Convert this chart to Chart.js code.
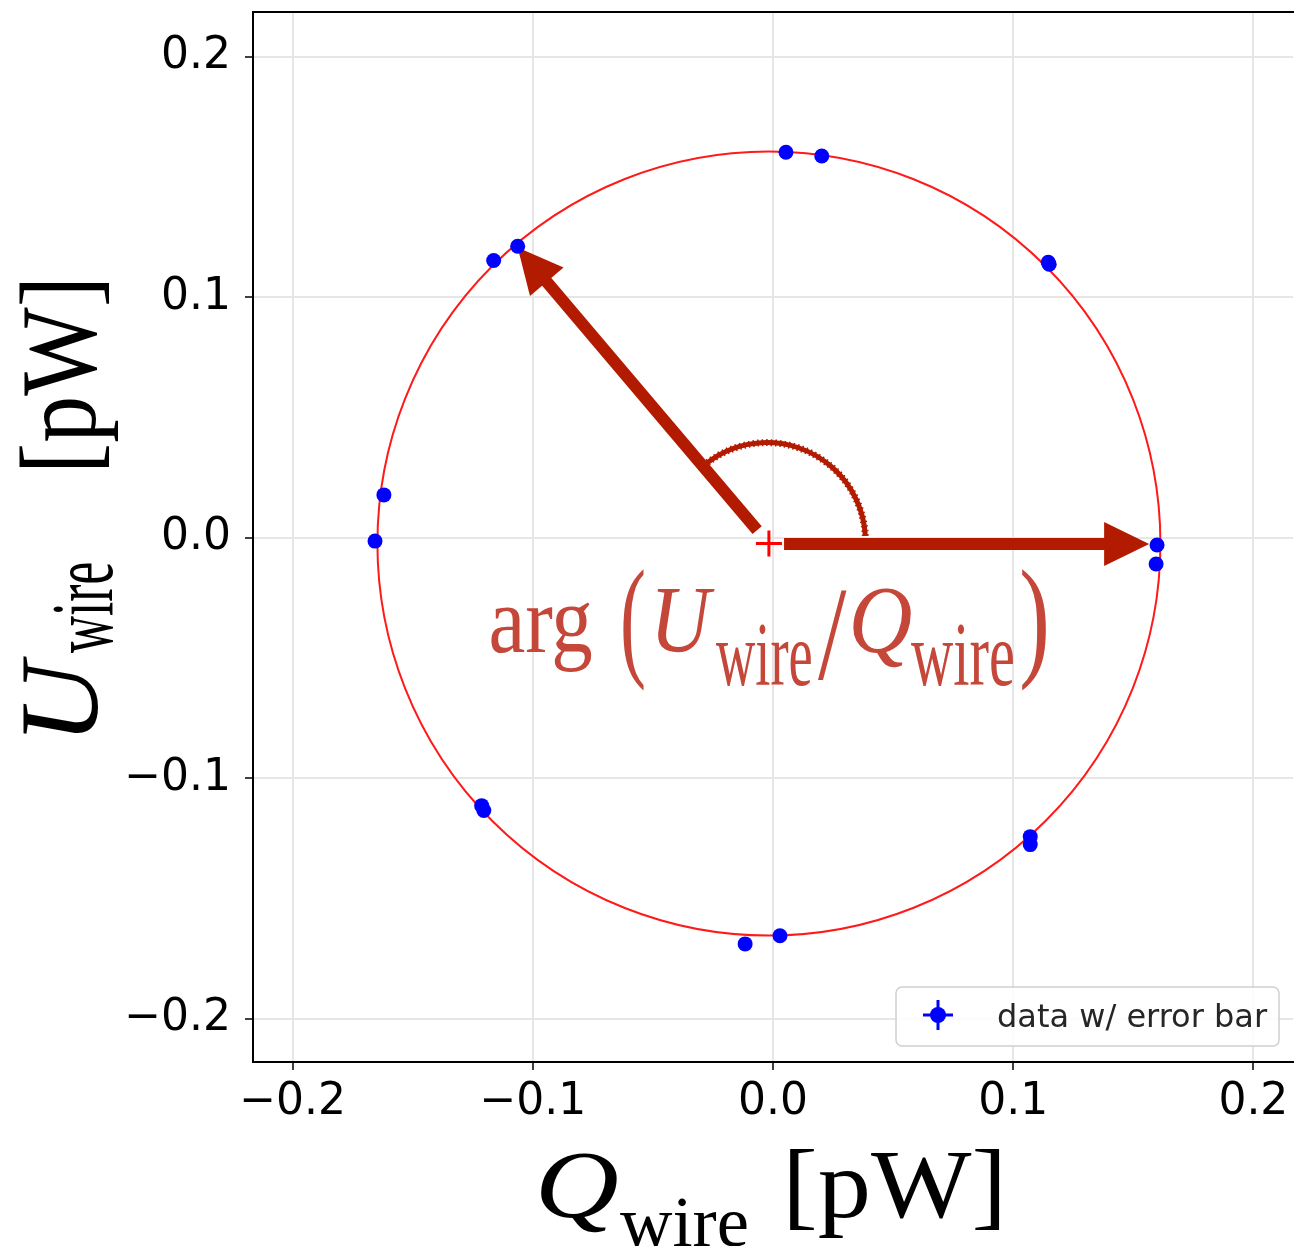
<!DOCTYPE html>
<html>
<head>
<meta charset="utf-8">
<script src="https://cdn.jsdelivr.net/npm/chart.js@4/dist/chart.umd.min.js"></script>
<style>
  html, body { margin: 0; padding: 0; background: #ffffff; }
  canvas { display: block; }
</style>
</head>
<body>
<canvas id="chart" width="1294" height="1246"></canvas>
<script>
// Wire response for each measurement: in-phase (Q) and quadrature (U) power, pW
const qWire = [0.0054, 0.0203, 0.1146, 0.1150, -0.1063, -0.1163, -0.1620, -0.1657,
               0.1599, 0.1595, -0.1213, -0.1204, 0.1071, 0.1071, -0.0116, 0.0029];
const uWire = [0.1604, 0.1588, 0.1146, 0.1138, 0.1213, 0.1154, 0.0179, -0.0013,
               -0.0029, -0.0108, -0.1113, -0.1133, -0.1242, -0.1275, -0.1688, -0.1654];

// Circle fitted through the points: centre [Q, U] and radius, pW
const fitCenter = [-0.0017, -0.0023];
const fitRadius = [0.163];

// Arrows from the centre: [tailQ, tailU, tipQ, tipU], pW
const arrowAlongQ = [0.0046, -0.0025, 0.1566, -0.0025];
const arrowToPoint = [-0.0066, 0.0033, -0.1063, 0.1208];
// Angle marker: centre [Q, U], radius, start / end angle (deg)
const angleCenter = [-0.0025, -0.0013];
const angleRadius = [0.041];
const angleSpan = [3, 128];

// Axis ticks and limits, pW
const axisTicks = [-0.2, -0.1, 0.0, 0.1, 0.2];
const qLimits = [-0.2165, 0.2165];
const uLimits = [-0.2179, 0.2187];

const legendLabel = 'data w/ error bar';

const points = qWire.map((q, i) => ({ x: q, y: uWire[i] }));

const ARROW_RED = '#b31b00';
const TEXT_RED = '#c4473a';

function fmtTick(v) {
  if (Math.abs(v) < 1e-9) return '0.0';
  return (v < 0 ? '\u2212' : '') + Math.abs(v).toFixed(1);
}

// Draw a text run so that its ink spans exactly inkWidth pixels horizontally
function inkText(ctx, text, font, x, baseline, inkWidth) {
  ctx.save();
  ctx.font = font;
  ctx.textAlign = 'left';
  ctx.textBaseline = 'alphabetic';
  const m = ctx.measureText(text);
  const natural = m.actualBoundingBoxLeft + m.actualBoundingBoxRight;
  const s = inkWidth ? inkWidth / natural : 1;
  ctx.translate(x + m.actualBoundingBoxLeft * s, baseline);
  ctx.scale(s, 1);
  ctx.fillText(text, 0, 0);
  ctx.restore();
}

function drawArrow(ctx, xs, ys, arr, width, headLen, headHalf) {
  const x0 = xs.getPixelForValue(arr[0]), y0 = ys.getPixelForValue(arr[1]);
  const x1 = xs.getPixelForValue(arr[2]), y1 = ys.getPixelForValue(arr[3]);
  const dx = x1 - x0, dy = y1 - y0;
  const len = Math.hypot(dx, dy);
  const ux = dx / len, uy = dy / len;
  const bx = x1 - ux * headLen, by = y1 - uy * headLen;
  ctx.save();
  ctx.strokeStyle = ARROW_RED;
  ctx.fillStyle = ARROW_RED;
  ctx.lineWidth = width;
  ctx.lineCap = 'butt';
  ctx.beginPath();
  ctx.moveTo(x0, y0);
  ctx.lineTo(bx + ux * 1, by + uy * 1);
  ctx.stroke();
  ctx.beginPath();
  ctx.moveTo(x1, y1);
  ctx.lineTo(bx - uy * headHalf, by + ux * headHalf);
  ctx.lineTo(bx + uy * headHalf, by - ux * headHalf);
  ctx.closePath();
  ctx.fill();
  ctx.restore();
}

// Keep the plot frame at fixed size: no extra room for overhanging tick labels
function fixScale(size, prop) {
  return function (scale) {
    scale[prop] = size;
    scale.paddingTop = 0;
    scale.paddingBottom = 0;
    scale.paddingLeft = 0;
    scale.paddingRight = 0;
  };
}

const overlayPlugin = {
  id: 'overlay',
  beforeDatasetsDraw(chart) {
    const { ctx, chartArea, scales: { x, y } } = chart;
    ctx.save();
    ctx.beginPath();
    ctx.rect(chartArea.left, chartArea.top, chartArea.right - chartArea.left, chartArea.bottom - chartArea.top);
    ctx.clip();

    // fitted circle
    const cx = x.getPixelForValue(fitCenter[0]);
    const cy = y.getPixelForValue(fitCenter[1]);
    const rx = x.getPixelForValue(fitCenter[0] + fitRadius[0]) - cx;
    const ry = cy - y.getPixelForValue(fitCenter[1] + fitRadius[0]);
    ctx.strokeStyle = '#ff1a1a';
    ctx.lineWidth = 2;
    ctx.beginPath();
    ctx.ellipse(cx, cy, rx, ry, 0, 0, Math.PI * 2);
    ctx.stroke();

    // angle marker between the two arrows
    const ax = x.getPixelForValue(angleCenter[0]);
    const ay = y.getPixelForValue(angleCenter[1]);
    const ar = x.getPixelForValue(angleCenter[0] + angleRadius[0]) - ax;
    ctx.strokeStyle = ARROW_RED;
    ctx.lineWidth = 5;
    ctx.beginPath();
    ctx.arc(ax, ay, ar, -angleSpan[0] * Math.PI / 180, -angleSpan[1] * Math.PI / 180, true);
    ctx.stroke();
    ctx.lineWidth = 7;
    ctx.setLineDash([1.5, 3]);
    ctx.beginPath();
    ctx.arc(ax, ay, ar, -angleSpan[0] * Math.PI / 180, -angleSpan[1] * Math.PI / 180, true);
    ctx.stroke();
    ctx.setLineDash([]);

    // arrows
    drawArrow(ctx, x, y, arrowAlongQ, 12, 45, 22);
    drawArrow(ctx, x, y, arrowToPoint, 12, 45, 22);
    ctx.restore();
  },
  afterDraw(chart) {
    const { ctx, chartArea } = chart;

    // top frame line
    ctx.save();
    ctx.strokeStyle = '#000000';
    ctx.lineWidth = 2;
    ctx.beginPath();
    ctx.moveTo(chartArea.left - 1, chartArea.top);
    ctx.lineTo(chartArea.right + 1, chartArea.top);
    ctx.stroke();
    ctx.restore();

    // legend
    ctx.save();
    ctx.fillStyle = 'rgba(255,255,255,0.85)';
    ctx.strokeStyle = '#d0d0d0';
    ctx.lineWidth = 1.5;
    ctx.beginPath();
    ctx.roundRect(896, 987, 383, 59, 6);
    ctx.fill();
    ctx.stroke();
    ctx.strokeStyle = '#0000ff';
    ctx.fillStyle = '#0000ff';
    ctx.lineWidth = 3;
    ctx.beginPath();
    ctx.moveTo(923, 1015); ctx.lineTo(953, 1015);
    ctx.moveTo(938, 1000); ctx.lineTo(938, 1030);
    ctx.stroke();
    ctx.beginPath();
    ctx.arc(938, 1015, 8, 0, Math.PI * 2);
    ctx.fill();
    ctx.fillStyle = '#262626';
    ctx.font = '32px "DejaVu Sans"';
    ctx.textBaseline = 'alphabetic';
    ctx.fillText(legendLabel, 997, 1027);
    ctx.restore();

    // axis titles
    ctx.save();
    ctx.fillStyle = '#000000';
    inkText(ctx, 'Q', 'italic 95px "Liberation Serif"', 541, 1217, 76);
    inkText(ctx, 'wire', '72px "Liberation Serif"', 620, 1246, 127);
    inkText(ctx, '[pW]', '97px "Liberation Serif"', 790, 1217, 210);

    ctx.rotate(-Math.PI / 2);
    inkText(ctx, 'U', 'italic 112px "Liberation Serif"', -734, 97, 78);
    inkText(ctx, 'wire', '88px "Liberation Serif"', -653, 112, 90);
    inkText(ctx, '[pW]', '108px "Liberation Serif"', -467, 95, 184);
    ctx.restore();

    // phase label
    ctx.save();
    ctx.fillStyle = TEXT_RED;
    inkText(ctx, 'arg', '96px "Liberation Serif"', 491, 652, 101);
    inkText(ctx, '(', '134px "Liberation Serif"', 623, 662, 21);
    inkText(ctx, 'U', 'italic 96px "Liberation Serif"', 657, 652, 58);
    inkText(ctx, 'wire', '90px "Liberation Serif"', 716, 685, 95);
    inkText(ctx, '/', '134px "Liberation Serif"', 818, 679, 29);
    inkText(ctx, 'Q', 'italic 96px "Liberation Serif"', 853, 652, 58);
    inkText(ctx, 'wire', '90px "Liberation Serif"', 911, 685, 102);
    inkText(ctx, ')', '134px "Liberation Serif"', 1022, 662, 24);
    ctx.restore();
  }
};

const tickFont = { family: 'DejaVu Sans', size: 44 };

new Chart(document.getElementById('chart'), {
  type: 'scatter',
  data: {
    datasets: [
      {
        label: legendLabel,
        data: points,
        backgroundColor: '#0000ff',
        borderWidth: 0,
        pointRadius: 7.5,
        pointHoverRadius: 7.5
      },
      {
        label: 'fit centre',
        data: [{ x: fitCenter[0], y: fitCenter[1] }],
        pointStyle: 'cross',
        pointRadius: 13,
        borderColor: '#ff0000',
        borderWidth: 3
      }
    ]
  },
  options: {
    responsive: false,
    animation: false,
    devicePixelRatio: 1,
    layout: { autoPadding: false, padding: { top: 12, right: 1, left: 0, bottom: 0 } },
    plugins: {
      legend: { display: false },
      tooltip: { enabled: false },
      title: { display: false }
    },
    scales: {
      x: {
        type: 'linear',
        min: qLimits[0],
        max: qLimits[1],
        afterBuildTicks(scale) { scale.ticks = axisTicks.map(v => ({ value: v })); },
        afterFit: fixScale(184, 'height'),
        ticks: {
          includeBounds: false,
          font: tickFont,
          color: '#000000',
          padding: 6,
          maxRotation: 0,
          autoSkip: false,
          callback: v => fmtTick(v)
        },
        grid: {
          color: '#e6e6e6',
          lineWidth: 2,
          tickColor: '#000000',
          tickLength: 8,
          tickWidth: 1.5
        },
        border: { display: true, color: '#000000', width: 2 }
      },
      y: {
        type: 'linear',
        min: uLimits[0],
        max: uLimits[1],
        afterBuildTicks(scale) { scale.ticks = axisTicks.map(v => ({ value: v })); },
        afterFit: fixScale(253, 'width'),
        ticks: {
          includeBounds: false,
          font: tickFont,
          color: '#000000',
          padding: 14,
          autoSkip: false,
          callback: v => fmtTick(v)
        },
        grid: {
          color: '#e6e6e6',
          lineWidth: 2,
          tickColor: '#000000',
          tickLength: 8,
          tickWidth: 1.5
        },
        border: { display: true, color: '#000000', width: 2 }
      }
    }
  },
  plugins: [overlayPlugin]
});
</script>
</body>
</html>
